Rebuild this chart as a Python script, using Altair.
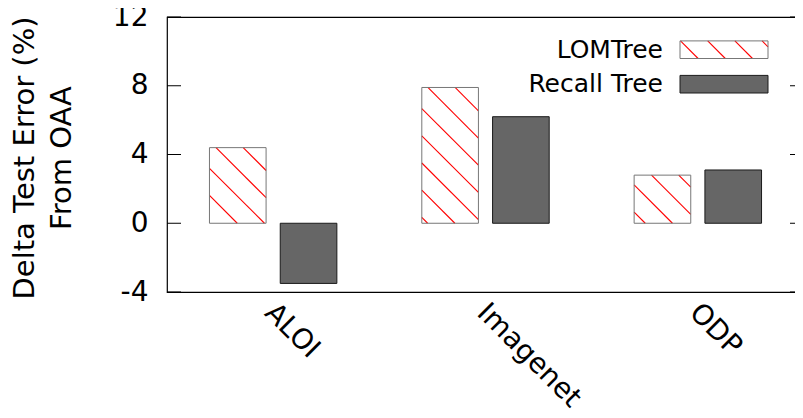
import math
import altair as alt
import pandas as pd

categories = ["ALOI", "Imagenet", "ODP"]
series = ["LOMTree", "Recall Tree"]
lomtree = [4.4, 7.9, 2.8]
recall_tree = [-3.5, 6.2, 3.1]
y_ticks = [-4, 0, 4, 8, 12]
y_title = ["Delta Test Error (%)", "From OAA"]

FONT = "DejaVu Sans"
W, H = 637, 275
Y_MIN, Y_MAX = -4, 12
PX = H / (Y_MAX - Y_MIN)
X_PAD_IN, X_PAD_OUT = 0.4, 0.2
OFF_PAD_IN = 0.2
step = W / (len(categories) - X_PAD_IN + 2 * X_PAD_OUT)
group_w = step * (1 - X_PAD_IN)
sub_step = group_w / (2 - OFF_PAD_IN)
bar_w = sub_step * (1 - OFF_PAD_IN)
HATCH_SPACING = 27.2

LEG_Y = [32.7, 67.2]
LEG_X0, LEG_X1, LEG_HALF = 513, 601, 8.8


def hatch_segments(x0, x1, ytop, ybot, s=HATCH_SPACING):
    """Diagonal '\\' hatch lines (pixel space) clipped to a rectangle."""
    segs = []
    n_min = math.ceil((x0 - ybot) / s)
    n_max = math.floor((x1 - ytop) / s)
    for n in range(n_min, n_max + 1):
        c = n * s
        pa = max(ytop, x0 - c)
        pb = min(ybot, x1 - c)
        if pb - pa > 0.6:
            segs.append((pa + c, pa, pb + c, pb))
    return segs


def to_val(py):
    return Y_MAX - py / PX


# hatch for the LOMTree bars (geometry mirrors the band scales)
hatch_rows = []
for i, v in enumerate(lomtree):
    x0 = i * step + X_PAD_OUT * step
    x1 = x0 + bar_w
    ytop = (Y_MAX - max(v, 0)) * PX
    ybot = (Y_MAX - min(v, 0)) * PX
    for xa, ya, xb, yb in hatch_segments(x0, x1, ytop, ybot):
        hatch_rows.append({"value": to_val(ya), "hx": xa, "hx2": xb, "hy2": to_val(yb)})
# hatch for the legend swatch
for xa, ya, xb, yb in hatch_segments(LEG_X0, LEG_X1, LEG_Y[0] - LEG_HALF, LEG_Y[0] + LEG_HALF):
    hatch_rows.append({"value": to_val(ya), "hx": xa, "hx2": xb, "hy2": to_val(yb)})
hatch_df = pd.DataFrame(hatch_rows)

rows = []
for c, v in zip(categories, lomtree):
    rows.append({"category": c, "series": series[0], "value": v})
for c, v in zip(categories, recall_tree):
    rows.append({"category": c, "series": series[1], "value": v})
df = pd.DataFrame(rows)
base = alt.Chart(df)

x_enc = alt.X(
    "category:N",
    scale=alt.Scale(domain=categories, paddingInner=X_PAD_IN, paddingOuter=X_PAD_OUT),
    axis=alt.Axis(title=None, labelAngle=45, labelAlign="left", labelBaseline="middle",
                  labelPadding=16, labelOffset=-4, tickSize=0, domain=False, grid=False,
                  labelFontSize=28, labelFont=FONT, labelColor="black"),
)
xoff_enc = alt.XOffset("series:N",
                       scale=alt.Scale(domain=series, paddingInner=OFF_PAD_IN, paddingOuter=0))
y_scale = alt.Scale(domain=[Y_MIN, Y_MAX], nice=False, zero=False)
y_axis = alt.Axis(values=y_ticks, tickSize=0, domain=False, grid=False,
                  labelExpr="'' + datum.value",
                  labelFontSize=28, labelFont=FONT, labelColor="black", labelPadding=19,
                  title=y_title, titleFont=FONT, titleFontSize=29, titleFontWeight="normal",
                  titleColor="black", titleX=-134, titleY=H / 2 + 3, titleAngle=-90,
                  titleAlign="center", titleBaseline="alphabetic", titleLineHeight=37)
y_enc = alt.Y("value:Q", scale=y_scale, axis=y_axis)

layers = []
# Recall Tree bars
layers.append(
    base.transform_filter(f"datum.series == '{series[1]}'")
    .mark_bar(fill="#666666", stroke="#1a1a1a", strokeWidth=1)
    .encode(x=x_enc, xOffset=xoff_enc, y=y_enc, y2=alt.datum(0))
)
# LOMTree bars: white fill
layers.append(
    base.transform_filter(f"datum.series == '{series[0]}'")
    .mark_bar(fill="white", strokeWidth=0)
    .encode(x=x_enc, xOffset=xoff_enc, y=y_enc, y2=alt.datum(0))
)
# red hatch lines
layers.append(
    alt.Chart(hatch_df).mark_rule(color="#ff0000", strokeWidth=1.1)
    .encode(x=alt.X("hx:Q", scale=None), x2="hx2:Q", y=y_enc, y2="hy2:Q")
)
# LOMTree outlines
layers.append(
    base.transform_filter(f"datum.series == '{series[0]}'")
    .mark_bar(fill="transparent", stroke="#777777", strokeWidth=1)
    .encode(x=x_enc, xOffset=xoff_enc, y=y_enc, y2=alt.datum(0))
)

# inward ticks on both sides
tick_df = pd.DataFrame({"value": y_ticks})
layers.append(alt.Chart(tick_df).mark_rule(color="black", strokeWidth=1)
              .encode(y=y_enc, x=alt.value(0), x2=alt.value(14)))
layers.append(alt.Chart(tick_df).mark_rule(color="black", strokeWidth=1)
              .encode(y=y_enc, x=alt.value(W - 14), x2=alt.value(W)))

# legend
legend_df = pd.DataFrame({"series": series})
legend_fill = ["transparent", "#666666"]
legend_stroke = ["#777777", "#1a1a1a"]
for s, yc, f, st in zip(series, LEG_Y, legend_fill, legend_stroke):
    layers.append(
        alt.Chart(legend_df).transform_filter(f"datum.series == '{s}'")
        .mark_text(align="right", baseline="middle", fontSize=25, font=FONT, color="black")
        .encode(text="series:N", x=alt.value(496), y=alt.value(yc))
    )
    layers.append(
        alt.Chart(legend_df).transform_filter(f"datum.series == '{s}'")
        .mark_rect(fill=f, stroke=st, strokeWidth=1)
        .encode(x=alt.value(LEG_X0), x2=alt.value(LEG_X1),
                y=alt.value(yc - LEG_HALF), y2=alt.value(yc + LEG_HALF))
    )

chart = (
    alt.layer(*layers)
    .properties(width=W, height=H,
                padding={"left": 159, "top": 9, "right": -9, "bottom": 122},
                autosize=alt.AutoSizeParams(type="none"),
                background="white")
    .configure_view(stroke="black", strokeWidth=1.2)
)

chart.save("out.html", embed_options={"renderer": "svg", "actions": False})
